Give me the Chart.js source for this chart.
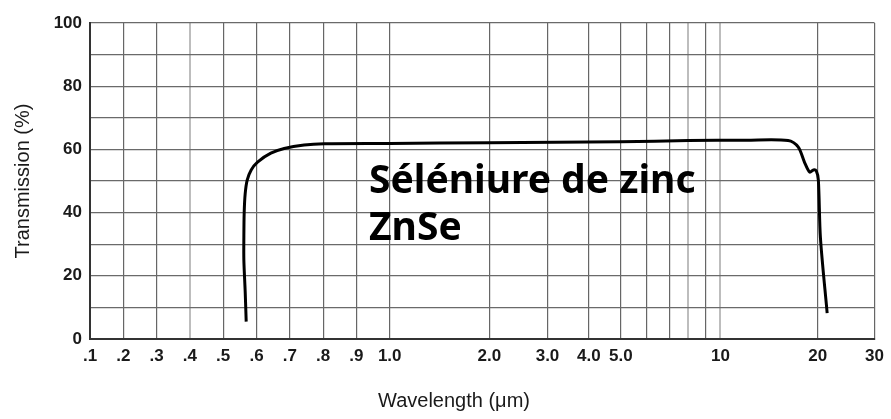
<!DOCTYPE html>
<html>
<head>
<meta charset="utf-8">
<script src="https://cdn.jsdelivr.net/npm/chart.js@4"></script>
<style>
  body { margin: 0; background: #fff; }
  #wrap { width: 891px; height: 419px; position: relative; }
</style>
</head>
<body>
<div id="wrap"><canvas id="chart"></canvas></div>
<script>
// ZnSe transmission curve
const WAVELENGTH = [0.569, 0.566, 0.562, 0.562, 0.563, 0.566, 0.572, 0.584, 0.603, 0.643, 0.683, 0.743, 0.803,
                    1.0, 2.0, 5.0, 8.0, 12, 16.2, 17.4, 18.2, 18.9, 19.4, 19.8, 20.1, 20.4, 21.4];
const TRANSMISSION = [5.5, 15, 25, 32, 40, 46, 50.3, 53.5, 56, 58.8, 60.3, 61.4, 61.8,
                      61.9, 62.1, 62.4, 62.8, 62.9, 62.8, 60.8, 56, 52.8, 53.5, 53.2, 50.3, 32, 8.2];

const X_GRID = [0.1, 0.2, 0.3, 0.4, 0.5, 0.6, 0.7, 0.8, 0.9, 1.0, 2, 3, 4, 5, 6, 7, 8, 9, 10, 20, 30];
const X_LABELS = ['.1', '.2', '.3', '.4', '.5', '.6', '.7', '.8', '.9', '1.0', '2.0', '3.0', '4.0', '5.0',
                  '', '', '', '', '10', '20', '30'];
const X_LIGHT = [0.4, 8, 10];
const Y_LABELS = [0, 20, 40, 60, 80, 100];

// the paper is linear from .1 to 1, then logarithmic (the last decade a bit tighter)
const DECADE_1 = 9.93;
const DECADE_2 = 9.7;
function toU(w) {
    if (w <= 1) return (w - 0.1) / 0.1;
    if (w <= 10) return 9 + Math.log10(w) * DECADE_1;
    return 9 + DECADE_1 + Math.log10(w / 10) * DECADE_2;
}
function fromU(u) {
    if (u <= 9) return 0.1 + u * 0.1;
    if (u <= 9 + DECADE_1) return Math.pow(10, (u - 9) / DECADE_1);
    return 10 * Math.pow(10, (u - 9 - DECADE_1) / DECADE_2);
}

class SpectrumScale extends Chart.Scale {
    determineDataLimits() {
        this.min = this.options.min;
        this.max = this.options.max;
    }
    buildTicks() {
        return X_GRID.map(v => ({ value: v }));
    }
    configure() {
        super.configure();
        this._u0 = toU(this.min);
        this._uSpan = toU(this.max) - this._u0;
    }
    getPixelForValue(v) {
        return this.getPixelForDecimal((toU(v) - this._u0) / this._uSpan);
    }
    getValueForPixel(p) {
        return fromU(this._u0 + this.getDecimalForPixel(p) * this._uSpan);
    }
}
SpectrumScale.id = 'spectrum';
SpectrumScale.defaults = {};
Chart.register(SpectrumScale);

const SANS = '"Liberation Sans", Arial, sans-serif';

const textPlugin = {
    id: 'texts',
    afterDraw(chart) {
        const ctx = chart.ctx;
        ctx.save();
        ctx.fillStyle = '#000';
        ctx.textAlign = 'left';
        ctx.textBaseline = 'alphabetic';
        ctx.font = 'bold 39px "Noto Sans", sans-serif';
        ctx.fillText('Séléniure de zinc', 369, 193);
        ctx.fillText('ZnSe', 369, 240);

        ctx.fillStyle = '#1a1a1a';
        ctx.textAlign = 'center';
        ctx.textBaseline = 'middle';
        ctx.font = '20px ' + SANS;
        ctx.fillText('Wavelength (μm)', 454, 401);
        ctx.restore();
    }
};

new Chart(document.getElementById('chart'), {
    type: 'scatter',
    data: {
        datasets: [{
            data: WAVELENGTH.map((w, i) => ({ x: w, y: TRANSMISSION[i] })),
            showLine: true,
            borderColor: '#000',
            borderWidth: 3,
            pointRadius: 0,
            tension: 0.3
        }]
    },
    options: {
        responsive: true,
        maintainAspectRatio: false,
        animation: false,
        layout: { padding: { top: 23, right: 14, left: 0, bottom: 0 } },
        plugins: { legend: { display: false }, tooltip: { enabled: false } },
        scales: {
            x: {
                type: 'spectrum',
                min: 0.1,
                max: 30,
                afterFit: s => { s.height = 80; },
                border: { color: '#333', width: 2 },
                grid: {
                    drawTicks: false,
                    color: c => X_LIGHT.includes(c.tick && c.tick.value) ? '#bdbdbd' : '#666',
                    lineWidth: c => X_LIGHT.includes(c.tick && c.tick.value) ? 2 : 1.2
                },
                ticks: {
                    autoSkip: false,
                    maxRotation: 0,
                    padding: 7,
                    color: '#1a1a1a',
                    font: { family: SANS, size: 17, weight: 'bold' },
                    callback: (v, i) => X_LABELS[i]
                }
            },
            y: {
                min: 0,
                max: 100,
                afterFit: s => { s.width = 90; },
                border: { color: '#333', width: 2 },
                grid: { drawTicks: false, color: '#6a6a6a', lineWidth: 1.2 },
                ticks: {
                    stepSize: 10,
                    padding: 8,
                    color: '#1a1a1a',
                    font: { family: SANS, size: 17, weight: 'bold' },
                    callback: v => Y_LABELS.includes(v) ? v : ''
                },
                title: {
                    display: true,
                    text: 'Transmission (%)',
                    color: '#1a1a1a',
                    font: { family: SANS, size: 20 },
                    padding: { top: 11 }
                }
            }
        }
    },
    plugins: [textPlugin]
});
</script>
</body>
</html>
